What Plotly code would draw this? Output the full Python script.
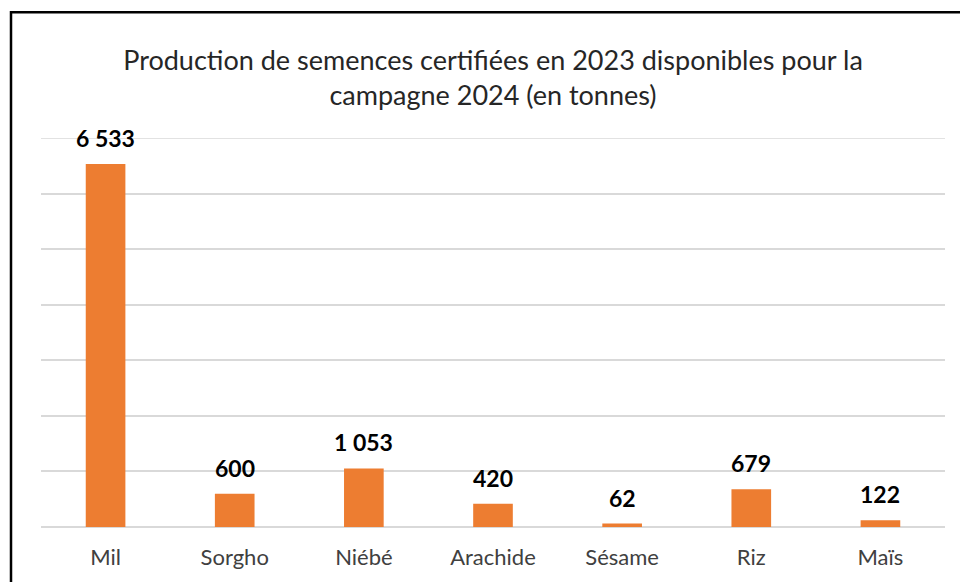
import plotly.graph_objects as go

categories = ["Mil", "Sorgho", "Niébé", "Arachide", "Sésame", "Riz", "Maïs"]
values = [6533, 600, 1053, 420, 62, 679, 122]
title_text = "Production de semences certifiées en 2023 disponibles pour la<br>campagne 2024 (en tonnes)"

FONT = "Lato"
Y_MAX = 7000

def fmt(v):
    return f"{v:,}".replace(",", " ")

fig = go.Figure()
fig.add_trace(go.Bar(
    x=categories, y=values,
    marker=dict(color="#ED7D31", line=dict(width=0)),
    hoverinfo="x+y",
))

for c, v in zip(categories, values):
    fig.add_annotation(x=c, y=v, text="<b>%s</b>" % fmt(v), showarrow=False,
                       yshift=26, font=dict(family=FONT, size=23, color="#000000"))

fig.update_layout(
    width=960, height=582,
    margin=dict(l=41, r=15, t=138, b=55),
    paper_bgcolor="white", plot_bgcolor="white",
    bargap=0.693,
    showlegend=False,
    title=dict(text=title_text, x=0.5, xref="paper", y=1 - 70 / 582, yref="container",
               xanchor="center", yanchor="middle",
               font=dict(family=FONT, size=27, color="#262626")),
    xaxis=dict(showgrid=False, showline=False, ticks="", ticklabelstandoff=15,
               tickfont=dict(family=FONT, size=22, color="#404040")),
    yaxis=dict(range=[0, Y_MAX], dtick=1000, showticklabels=False, showgrid=True,
               gridcolor="#D9D9D9", gridwidth=1.5, zeroline=True, zerolinecolor="#D9D9D9",
               zerolinewidth=1.5, fixedrange=True),
    shapes=[
        dict(type="line", xref="paper", yref="y", x0=0, x1=1, y0=Y_MAX, y1=Y_MAX,
             line=dict(color="#D9D9D9", width=1.5), layer="below"),
        dict(type="rect", xref="paper", yref="paper",
             x0=(11 - 41) / 904, x1=1.1, y0=-0.3, y1=(527.5 - 12) / 389.5,
             line=dict(color="black", width=2.5), layer="above"),
    ],
)

fig.write_html("out.html", config={"displayModeBar": False},
               post_script="document.body.style.margin='0';")
